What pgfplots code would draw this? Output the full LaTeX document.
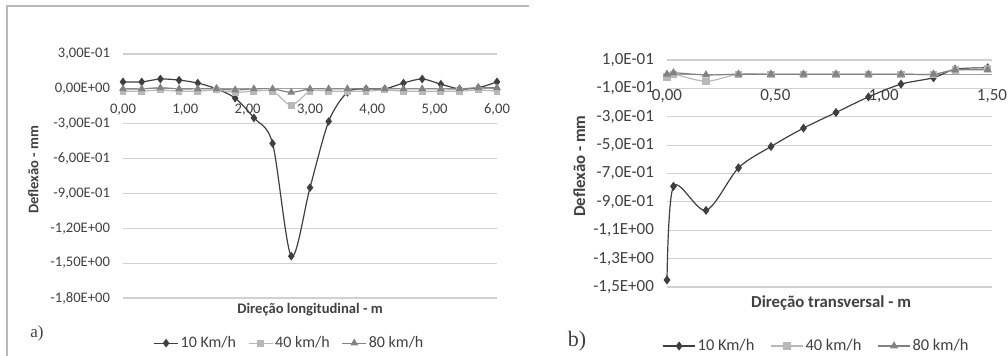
\documentclass[border=0pt]{standalone}
\usepackage{fontspec}
\setmainfont{Carlito}
\newfontfamily\seriffont{Liberation Serif}
\usepackage{pgfplots}
\pgfplotsset{compat=1.18}
\definecolor{sA}{HTML}{3F3F3F}
\definecolor{sB}{HTML}{B8B8B8}
\definecolor{sC}{HTML}{828282}
\definecolor{txt}{HTML}{404040}
\definecolor{gridc}{HTML}{D0D0D0}

\begin{document}
\begin{tikzpicture}
\path[use as bounding box] (0pt,0pt) rectangle (504pt,177.5pt);
\draw[gray!55, line width=0.6pt] (3.5pt,-2pt) -- (3.5pt,174.5pt) -- (264.5pt,174.5pt);
\node[font=\seriffont\fontsize{8.5}{9}\selectfont, text=txt] at (18.5pt,11pt) {a)};
\node[font=\seriffont\fontsize{11}{12}\selectfont, text=txt] at (288.5pt,7pt) {b)};

\begin{axis}[
  at={(61.5pt,28.5pt)}, anchor=south west, scale only axis,
  width=187pt, height=122pt,
  xmin=0, xmax=6, ymin=-1.8, ymax=0.3,
  axis x line*=middle, axis y line*=left,
  hide obscured x ticks=false, hide obscured y ticks=false,
  x axis line style={-, draw=gray!75, line width=0.6pt},
  y axis line style={draw=none},
  xtick={0,1,2,3,4,5,6},
  xticklabels={{0,00},{1,00},{2,00},{3,00},{4,00},{5,00},{6,00}},
  ytick={0.3,0,-0.3,-0.6,-0.9,-1.2,-1.5,-1.8},
  yticklabels={{3,00E-01},{0,00E+00},{-3,00E-01},{-6,00E-01},{-9,00E-01},{-1,20E+00},{-1,50E+00},{-1,80E+00}},
  ymajorgrids, grid style={gridc, line width=0.6pt},
  major tick length=0pt,
  tick label style={font=\fontsize{7.3}{8}\selectfont, text=txt},
  xticklabel style={yshift=-4pt},
  yticklabel style={xshift=-3pt},
  xlabel={Direção longitudinal - m}, ylabel={Deflexão - mm},
  label style={font=\bfseries\fontsize{7.3}{8}\selectfont, text=txt},
  x label style={at={(axis description cs:0.5,-0.049)}, anchor=center},
  y label style={at={(axis description cs:-0.24,0.525)}, anchor=center},
  clip=false,
  legend style={at={(0.445,-0.185)}, anchor=center, draw=none, fill=none,
    legend columns=3, font=\fontsize{8}{9}\selectfont, text=txt,
    /tikz/every even column/.append style={column sep=5pt},
    nodes={inner sep=1pt}},
  legend image code/.code={\draw[mark repeat=2,mark phase=2,#1] plot coordinates {(0pt,0pt) (6pt,0pt) (12pt,0pt)};},
]
\addplot[color=sA, line width=0.6pt, smooth, mark=diamond*, mark size=1.7pt] coordinates {
(0,0.06) (0.3,0.06) (0.6,0.085) (0.9,0.075) (1.2,0.05) (1.5,0.0) (1.8,-0.08) (2.1,-0.25) (2.4,-0.47) (2.7,-1.44) (3.0,-0.85) (3.3,-0.28) (3.6,-0.03) (3.9,0.0) (4.2,0.0) (4.5,0.05) (4.8,0.085) (5.1,0.04) (5.4,0.0) (5.7,0.01) (6.0,0.06)};
\addlegendentry{10 Km/h}
\addplot[color=sB, line width=0.6pt, smooth, mark=square*, mark size=1.4pt] coordinates {
(0,-0.02) (0.3,-0.02) (0.6,-0.01) (0.9,-0.02) (1.2,-0.02) (1.5,-0.01) (1.8,-0.03) (2.1,-0.02) (2.4,-0.02) (2.7,-0.14) (3.0,-0.02) (3.3,-0.02) (3.6,-0.02) (3.9,-0.02) (4.2,-0.01) (4.5,-0.02) (4.8,-0.02) (5.1,-0.02) (5.4,-0.02) (5.7,-0.01) (6.0,-0.02)};
\addlegendentry{40 km/h}
\addplot[color=sC, line width=0.6pt, smooth, mark=triangle*, mark size=1.7pt] coordinates {
(0,0.0) (0.3,0.0) (0.6,0.01) (0.9,0.0) (1.2,0.0) (1.5,0.0) (1.8,-0.01) (2.1,0.0) (2.4,0.0) (2.7,-0.03) (3.0,0.0) (3.3,0.0) (3.6,0.0) (3.9,0.0) (4.2,0.0) (4.5,0.0) (4.8,0.0) (5.1,0.0) (5.4,0.0) (5.7,0.01) (6.0,0.01)};
\addlegendentry{80 km/h}
\end{axis}

\begin{axis}[
  at={(333.5pt,34pt)}, anchor=south west, scale only axis,
  width=162.5pt, height=113.5pt,
  xmin=0, xmax=1.5, ymin=-1.5, ymax=0.1,
  axis x line*=middle, axis y line*=left,
  hide obscured x ticks=false, hide obscured y ticks=false,
  x axis line style={-, draw=gray!75, line width=0.6pt},
  y axis line style={draw=none},
  xtick={0,0.5,1,1.5},
  xticklabels={{0,00},{0,50},{1,00},{1,50}},
  ytick={0.1,-0.1,-0.3,-0.5,-0.7,-0.9,-1.1,-1.3,-1.5},
  yticklabels={{1,0E-01},{-1,0E-01},{-3,0E-01},{-5,0E-01},{-7,0E-01},{-9,0E-01},{-1,1E+00},{-1,3E+00},{-1,5E+00}},
  ymajorgrids, grid style={gridc, line width=0.6pt},
  major tick length=0pt,
  tick label style={font=\fontsize{8.5}{9}\selectfont, text=txt},
  xticklabel style={yshift=-4pt},
  yticklabel style={xshift=-3pt},
  xlabel={Direção transversal - m}, ylabel={Deflexão - mm},
  label style={font=\bfseries\fontsize{8.4}{9}\selectfont, text=txt},
  x label style={at={(axis description cs:0.505,-0.07)}, anchor=center},
  y label style={at={(axis description cs:-0.27,0.533)}, anchor=center},
  clip=false,
  legend style={at={(0.46,-0.26)}, anchor=center, draw=none, fill=none,
    legend columns=3, font=\fontsize{8.2}{9}\selectfont, text=txt,
    /tikz/every even column/.append style={column sep=7pt},
    nodes={inner sep=1pt}},
  legend image code/.code={\draw[mark repeat=2,mark phase=2,#1] plot coordinates {(0pt,0pt) (8pt,0pt) (16pt,0pt)};},
]
\addplot[color=sA, line width=0.6pt, smooth, mark=diamond*, mark size=1.8pt] coordinates {
(0,-1.45) (0.03,-0.79) (0.18,-0.96) (0.33,-0.66) (0.48,-0.51) (0.63,-0.38) (0.78,-0.27) (0.93,-0.16) (1.08,-0.07) (1.23,-0.025) (1.33,0.035) (1.48,0.045)};
\addlegendentry{10 Km/h}
\addplot[color=sB, line width=0.6pt, smooth, mark=square*, mark size=1.5pt] coordinates {
(0,-0.02) (0.03,0.0) (0.18,-0.05) (0.33,0.0) (0.48,0.0) (0.63,0.0) (0.78,0.0) (0.93,0.0) (1.08,0.0) (1.23,0.0) (1.33,0.03) (1.48,0.04)};
\addlegendentry{40 km/h}
\addplot[color=sC, line width=0.6pt, smooth, mark=triangle*, mark size=1.8pt] coordinates {
(0,0.0) (0.03,0.01) (0.18,-0.005) (0.33,0.0) (0.48,0.0) (0.63,0.0) (0.78,0.0) (0.93,0.0) (1.08,0.0) (1.23,0.0) (1.33,0.03) (1.48,0.03)};
\addlegendentry{80 km/h}
\end{axis}
\end{tikzpicture}
\end{document}
